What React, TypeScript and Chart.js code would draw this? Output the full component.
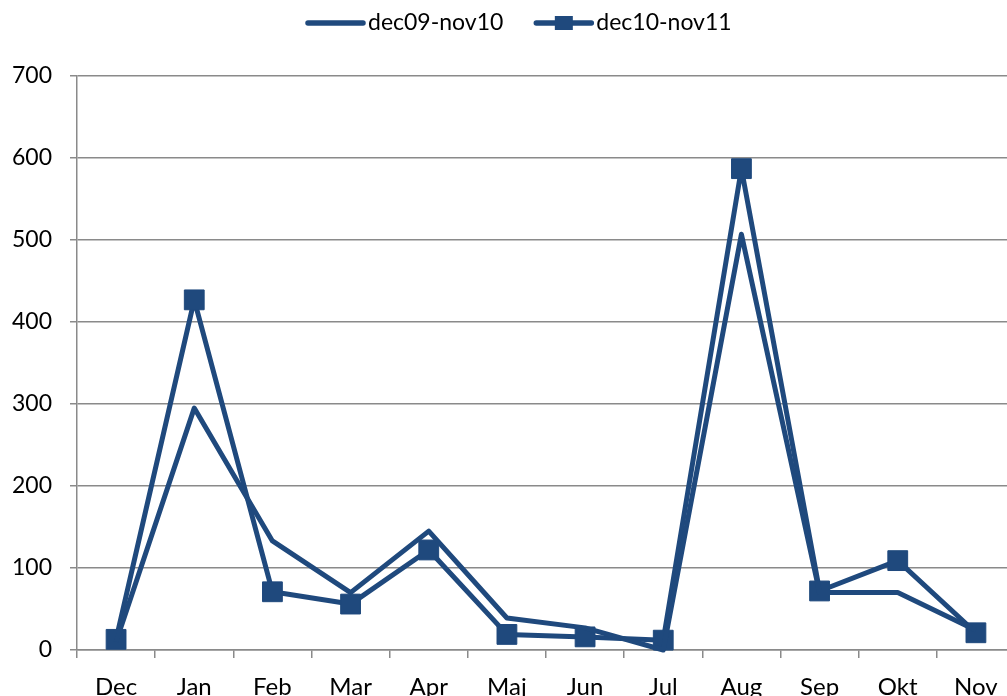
import React, { useEffect, useRef } from "react";
import { Chart, registerables } from "chart.js";

Chart.register(...registerables);

const categories = ["Dec", "Jan", "Feb", "Mar", "Apr", "Maj", "Jun", "Jul", "Aug", "Sep", "Okt", "Nov"];
const series1Name = "dec09-nov10";
const series2Name = "dec10-nov11";
const series1 = [10, 295, 133, 70, 145, 39, 27, 0, 507, 70, 70, 24];
const series2 = [13, 427, 71, 56, 122, 19, 16, 12, 587, 72, 109, 21];
const yMin = 0;
const yMax = 700;
const yStep = 100;

const LINE_COLOR = "#1F497D";
const GRID_COLOR = "#8a8a8a";
const FONT = "Lato";

const legendPlugin = {
  id: "excelLegend",
  afterDraw(chart: any) {
    const ctx = chart.ctx as CanvasRenderingContext2D;
    ctx.save();
    ctx.font = `23px ${FONT}`;
    ctx.fillStyle = "#000";
    ctx.textBaseline = "middle";
    ctx.textAlign = "left";
    const y = 23;
    const lineLen = 55;
    const gapText = 5;
    const gapItems = 33;
    let x = 308;
    const items = chart.data.datasets.map((d: any, i: number) => ({ label: d.label, marker: i === 1 }));
    items.forEach((it: any) => {
      ctx.strokeStyle = LINE_COLOR;
      ctx.lineWidth = 5.5;
      ctx.lineCap = "round";
      ctx.beginPath();
      ctx.moveTo(x, y);
      ctx.lineTo(x + lineLen, y);
      ctx.stroke();
      if (it.marker) {
        ctx.fillStyle = LINE_COLOR;
        ctx.fillRect(x + lineLen / 2 - 9, y - 7, 18, 14);
      }
      ctx.fillStyle = "#000";
      const tx = x + lineLen + gapText;
      ctx.fillText(it.label, tx, y);
      x = tx + ctx.measureText(it.label).width + gapItems;
    });
    ctx.restore();
  },
};

export default function App() {
  const ref = useRef<HTMLCanvasElement | null>(null);

  useEffect(() => {
    if (!ref.current) return;
    const chart = new Chart(ref.current, {
      type: "line",
      data: {
        labels: categories,
        datasets: [
          {
            label: series1Name,
            data: series1,
            borderColor: LINE_COLOR,
            backgroundColor: LINE_COLOR,
            borderWidth: 5,
            borderJoinStyle: "round",
            pointRadius: 0,
            pointHoverRadius: 0,
            tension: 0,
            clip: false,
          },
          {
            label: series2Name,
            data: series2,
            borderColor: LINE_COLOR,
            backgroundColor: LINE_COLOR,
            borderWidth: 5,
            borderJoinStyle: "round",
            pointStyle: "rect",
            pointRadius: 14,
            pointBorderWidth: 1,
            pointBorderColor: LINE_COLOR,
            pointBackgroundColor: LINE_COLOR,
            tension: 0,
            clip: false,
          },
        ],
      },
      options: {
        responsive: false,
        animation: false,
        layout: { padding: { top: 76, left: 0, right: 13, bottom: 0 } },
        plugins: {
          legend: { display: false },
          tooltip: { enabled: false },
          title: { display: false },
        },
        scales: {
          x: {
            type: "category",
            offset: true,
            grid: {
              display: true,
              drawOnChartArea: false,
              drawTicks: true,
              tickLength: 8,
              offset: true,
              color: GRID_COLOR,
              lineWidth: 1.5,
            },
            border: { display: true, color: GRID_COLOR, width: 1.5 },
            ticks: {
              color: "#000",
              font: { family: FONT, size: 24 },
              padding: 15,
              maxRotation: 0,
              autoSkip: false,
            },
            afterFit(scale: any) {
              scale.height = 70;
            },
          },
          y: {
            min: yMin,
            max: yMax,
            grid: {
              display: true,
              drawOnChartArea: true,
              drawTicks: true,
              tickLength: 7,
              color: GRID_COLOR,
              lineWidth: 1.5,
            },
            border: { display: true, color: GRID_COLOR, width: 1.5 },
            ticks: {
              stepSize: yStep,
              color: "#000",
              font: { family: FONT, size: 23 },
              padding: 18,
            },
            afterFit(scale: any) {
              scale.width = 77;
            },
          },
        },
      },
      plugins: [legendPlugin],
    });
    return () => chart.destroy();
  }, []);

  return (
    <div style={{ position: "fixed", left: 0, top: 0, width: 1007, height: 696, overflow: "hidden", background: "#fff" }}>
      <canvas ref={ref} width={1030} height={720} style={{ display: "block", width: 1030, height: 720 }} />
    </div>
  );
}
